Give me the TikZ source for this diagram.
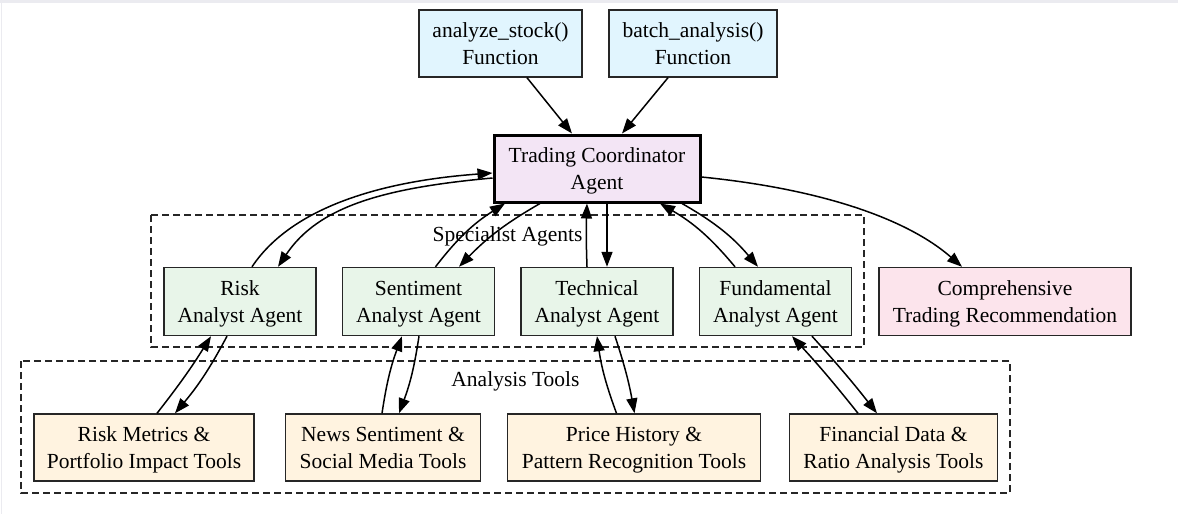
\documentclass[tikz,border=0pt]{standalone}
\usepackage{fontspec}
\setmainfont{Liberation Serif}
\usetikzlibrary{arrows.meta}
\definecolor{cblue}{HTML}{E1F5FE}
\definecolor{cpurple}{HTML}{F3E5F5}
\definecolor{cgreen}{HTML}{E8F5E9}
\definecolor{cpink}{HTML}{FCE4EC}
\definecolor{corange}{HTML}{FFF3E0}
\definecolor{frame}{HTML}{EBEBF0}
\newcommand{\myline}[1]{\rule[-6pt]{0pt}{27pt}#1}
\tikzset{
  box/.style={draw=black!85, line width=1.4pt, align=center, inner sep=0pt,
    font=\fontsize{21.5}{27}\selectfont, minimum height=67pt},
  fnbox/.style={box, fill=cblue},
  coordbox/.style={box, fill=cpurple, draw=black, line width=3pt},
  agentbox/.style={box, fill=cgreen, minimum width=152pt, minimum height=68pt},
  resultbox/.style={box, fill=cpink, minimum height=68pt},
  toolbox/.style={box, fill=corange},
  cluster/.style={draw=black!85, line width=1.4pt, dash pattern=on 7pt off 4pt},
  clabel/.style={font=\fontsize{21.5}{27}\selectfont, inner sep=0pt},
  arr/.style={draw=black, line width=1.5pt, -{Triangle[length=15pt,width=11pt]}},
}
\begin{document}
\begin{tikzpicture}[x=1pt,y=-1pt]
\useasboundingbox (0,0) rectangle (1178,514);
\fill[frame] (0,0) rectangle (1178,3);
\draw[frame, line width=1pt] (1.5,3) -- (1.5,514);

% clusters
\draw[cluster] (151,215) rectangle (864,347);
\node[clabel] (lspec) at (507.5,236) {Specialist Agents};
\draw[cluster] (21,361) rectangle (1010,493);
\node[clabel] (ltools) at (515.5,381) {Analysis Tools};

% nodes
\node[fnbox, minimum width=163pt] (an) at (500.5,43.5) {\myline{analyze\_stock()}\\\myline{Function}};
\node[fnbox, minimum width=168pt] (ba) at (693,43.5) {\myline{batch\_analysis()}\\\myline{Function}};
\node[coordbox, minimum width=206pt] (co) at (597,168.5) {\myline{Trading Coordinator}\\\myline{Agent}};

\node[agentbox] (ri) at (240,301.5) {\myline{Risk}\\\myline{Analyst Agent}};
\node[agentbox] (se) at (418.5,301.5) {\myline{Sentiment}\\\myline{Analyst Agent}};
\node[agentbox] (te) at (597,301.5) {\myline{Technical}\\\myline{Analyst Agent}};
\node[agentbox] (fu) at (775.5,301.5) {\myline{Fundamental}\\\myline{Analyst Agent}};
\node[resultbox, minimum width=252pt] (cr) at (1005,301.5) {\myline{Comprehensive}\\\myline{Trading Recommendation}};

\node[toolbox, minimum width=220pt] (rm) at (144,447.5) {\myline{Risk Metrics \&}\\\myline{Portfolio Impact Tools}};
\node[toolbox, minimum width=195pt] (nw) at (383,447.5) {\myline{News Sentiment \&}\\\myline{Social Media Tools}};
\node[toolbox, minimum width=253pt] (ph) at (634,447.5) {\myline{Price History \&}\\\myline{Pattern Recognition Tools}};
\node[toolbox, minimum width=208pt] (fd) at (893.5,447.5) {\myline{Financial Data \&}\\\myline{Ratio Analysis Tools}};

% top inputs
\draw[arr] ([xshift=26.5pt]an.south) -- ([xshift=-25pt]co.north);
\draw[arr] ([xshift=-25pt]ba.south) -- ([xshift=25pt]co.north);

% coordinator <-> agents
\draw[arr] ([xshift=12pt]ri.north) .. controls +(40,-60) and +(-110,8) .. ([yshift=-4.5pt]co.west);
\draw[arr] ([yshift=-9.5pt]co.west) .. controls +(-110,10) and +(40,-60) .. ([xshift=38pt]ri.north);
\draw[arr] ([xshift=17pt]se.north) to[bend left=10] ([xshift=-92pt]co.south);
\draw[arr] ([xshift=-57pt]co.south) to[bend right=8] ([xshift=40.5pt]se.north);
\draw[arr] ([xshift=-10pt]te.north) to[bend left=2] ([xshift=-10pt]co.south);
\draw[arr] ([xshift=10pt]co.south) -- ([xshift=10pt]te.north);
\draw[arr] ([xshift=-40.5pt]fu.north) to[bend right=10] ([xshift=63pt]co.south);
\draw[arr] ([xshift=85pt]co.south) to[bend left=10] ([xshift=-17.5pt]fu.north);
\draw[arr] ([yshift=-8.5pt]co.east) .. controls +(120,12) and +(-55,-48) .. ([xshift=-43pt]cr.north);

% agents <-> tools
\draw[arr] ([xshift=13pt]rm.north) to[bend right=3] ([xshift=-29pt]ri.south);
\draw[arr] ([xshift=-13pt]ri.south) to[bend left=6] ([xshift=31pt]rm.north);
\draw[arr] ([xshift=-1pt]nw.north) to[bend left=6] ([xshift=-16.5pt]se.south);
\draw[arr] ([xshift=0.5pt]se.south) to[bend left=6] ([xshift=16pt]nw.north);
\draw[arr] ([xshift=-17.5pt]ph.north) to[bend left=6] (te.south);
\draw[arr] ([xshift=18pt]te.south) to[bend left=4] ([xshift=0.5pt]ph.north);
\draw[arr] ([xshift=-35.5pt]fd.north) to[bend right=2] ([xshift=16.5pt]fu.south);
\draw[arr] ([xshift=36.5pt]fu.south) to[bend left=2] ([xshift=-16.5pt]fd.north);
\end{tikzpicture}
\end{document}
